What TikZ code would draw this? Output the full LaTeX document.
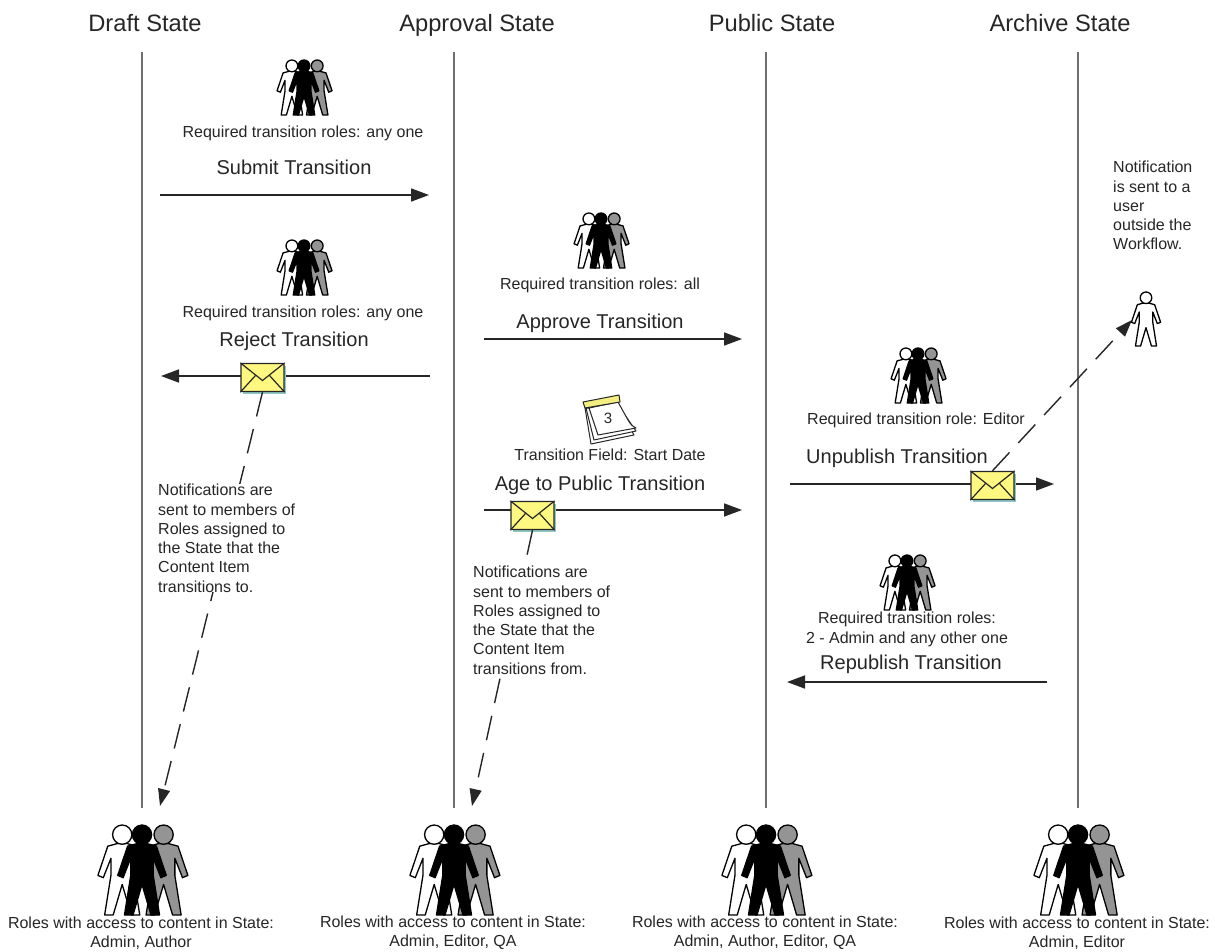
\documentclass[tikz,border=0pt]{standalone}
\usepackage{fontspec}
\setmainfont{Liberation Sans}
\usetikzlibrary{arrows.meta,calc}
\definecolor{ink}{HTML}{262626}
\definecolor{lane}{HTML}{6E6E6E}
\definecolor{envfill}{HTML}{FFF880}
\definecolor{calfill}{HTML}{F4EE80}
\definecolor{shadowc}{HTML}{8FC7C7}
\definecolor{figgray}{HTML}{949494}
\tikzset{
  x=1pt,y=-1pt,
  head/.style={font=\fontsize{23.7}{26}\selectfont,text=ink,anchor=center,inner sep=0pt,text height=17pt,text depth=0pt},
  small/.style={font=\fontsize{16}{19.3}\selectfont,text=ink,align=center,anchor=center,inner sep=0pt},
  oneline/.style={font=\fontsize{16}{19.3}\selectfont,text=ink,anchor=center,inner sep=0pt,text height=11.5pt,text depth=0pt},
  note/.style={font=\fontsize{16}{19.3}\selectfont,text=ink,align=left,anchor=north west,inner sep=0pt,fill=white},
  trans/.style={font=\fontsize{20}{22}\selectfont,text=ink,anchor=center,inner sep=0pt,text height=14.4pt,text depth=0pt},
  laneline/.style={draw=lane,line width=2.4pt},
  flow/.style={draw=ink,line width=1.6pt,-{Triangle[length=18pt,width=13pt]}},
  notify/.style={draw=ink,line width=1.4pt,dash pattern=on 25pt off 13pt,-{Triangle[length=17pt,width=12pt]}},
  envbox/.style={draw=ink,line width=1.4pt,fill=envfill,minimum width=43pt,minimum height=28pt,inner sep=0pt,rounded corners=1pt},
}
% #1 x, #2 top y, #3 height, #4 fill
\newcommand{\figperson}[4]{%
  \begin{scope}[shift={(#1,#2)},x=#3pt,y=-#3pt]
    \filldraw[draw=black,fill=#4,line width=1.3pt,line join=round]
      (-.05,.205)--(-.16,.235)--(-.27,.56)--(-.21,.585)--(-.125,.37)--(-.125,.56)--(-.195,1)--(-.10,1)--(0,.66)
      --(.10,1)--(.195,1)--(.125,.56)--(.125,.37)--(.21,.585)--(.27,.56)--(.16,.235)--(.05,.205)--cycle;
    \filldraw[draw=black,fill=#4,line width=1.3pt] (0,.107) circle[radius=.107];
  \end{scope}}
\newcommand{\figgroup}[3]{%
  \figperson{#1-.22*#3}{#2}{#3}{white}%
  \figperson{#1+.24*#3}{#2}{#3}{figgray}%
  \figperson{#1}{#2}{#3}{black}}
% #1 name, #2 x, #3 y
\newcommand{\envelope}[3]{%
  \fill[shadowc] (#2-20,#3-12) rectangle (#2+23.5,#3+16);
  \node[envbox] (#1) at (#2,#3) {};
  \draw[ink,line width=1.2pt] (#1.north west)--($(#1.center)+(0,3)$)--(#1.north east);
  \draw[ink,line width=1.2pt] (#1.south west)--($(#1.center)+(-7,-2)$);
  \draw[ink,line width=1.2pt] (#1.south east)--($(#1.center)+(7,-2)$);}
\begin{document}
\begin{tikzpicture}
\useasboundingbox (0,0) rectangle (1215,952);
\fill[white] (0,0) rectangle (1215,952);
% headings
\node[head] (h1) at (145,23) {Draft State};
\node[head] (h2) at (477,23) {Approval State};
\node[head] (h3) at (772,23) {Public State};
\node[head] (h4) at (1060,23) {Archive State};
% swimlanes
\foreach \n/\x in {a/142,b/454,c/766,d/1078}{
  \coordinate (\n t) at (\x,52);
  \coordinate (\n b) at (\x,808);
  \draw[laneline] (\n t)--(\n b);
}
% big groups
\foreach \x in {142,454,766,1078}{\figgroup{\x}{825}{90}}
\node[small] (r1) at (141,933) {Roles with access to content in State:\\Admin, Author};
\node[small] (r2) at (453,933) {Roles with access to content in State:\\Admin, Editor, QA};
\node[small] (r3) at (765,933) {Roles with access to content in State:\\Admin, Author, Editor, QA};
\node[small] (r4) at (1077,933) {Roles with access to content in State:\\Admin, Editor};
% small groups
\figgroup{304}{60}{55}
\figgroup{304}{240}{55}
\figgroup{601}{213}{55}
\figgroup{918}{348}{55}
\figgroup{907}{555}{55}
\figperson{1146}{292}{54}{white}
% labels
\node[oneline] (l1) at (303,132) {Required transition roles: any one};
\node[trans] (t1) at (294,167) {Submit Transition};
\node[oneline] (l2) at (303,312) {Required transition roles: any one};
\node[trans] (t2) at (294,339) {Reject Transition};
\node[oneline] (l3) at (600,284) {Required transition roles: all};
\node[trans] (t3) at (600,321) {Approve Transition};
\node[oneline] (l4) at (610,455) {Transition Field: Start Date};
\node[trans] (t4) at (600,483) {Age to Public Transition};
\node[oneline] (l5) at (916,419) {Required transition role: Editor};
\node[trans] (t5) at (897,456) {Unpublish Transition};
\node[small] (l6) at (907,629.5) {Required transition roles:\\2 - Admin and any other one};
\node[trans] (t6) at (911,662) {Republish Transition};
% arrows
\coordinate (s1) at (160,195); \coordinate (e1) at (429,195);
\coordinate (s2) at (430,376); \coordinate (e2) at (161,376);
\coordinate (s3) at (484,339); \coordinate (e3) at (742,339);
\coordinate (s4) at (484,510); \coordinate (e4) at (742,510);
\coordinate (s5) at (790,484); \coordinate (e5) at (1054,484);
\coordinate (s6) at (1047,682); \coordinate (e6) at (787,682);
\foreach \i in {1,...,6}{\draw[flow] (s\i)--(e\i);}
% dashed notifications
\coordinate (d1) at (160,806);
\coordinate (d2) at (472,806);
\coordinate (d3) at (1132,320);
\envelope{m1}{262.5}{377.5}
\envelope{m2}{532.5}{515.5}
\envelope{m3}{992.5}{485.5}
\draw[notify] (m1.south)--(d1);
\draw[notify] (m2.south)--(d2);
\draw[notify] (m3.north)--(d3);
% notes (their white boxes interrupt the dashed lines)
\node[note] (n1) at (158,484) {Notifications are\\sent to members of\\Roles assigned to\\the State that the\\Content Item\\transitions to.};
\node[note] (n2) at (473,566) {Notifications are\\sent to members of\\Roles assigned to\\the State that the\\Content Item\\transitions from.};
\node[note] (n3) at (1113,161) {Notification\\is sent to a\\user\\outside the\\Workflow.};
% calendar
\begin{scope}[draw=ink,line width=1pt,line join=round]
  \filldraw[fill=white] (585,408)--(591,444)--(634,435)--(620,410)--cycle;
  \filldraw[fill=white] (586,408)--(594,440)--(636,431)--(620,408)--cycle;
  \filldraw[fill=white] (589,408)--(618,402)--(628,420) .. controls (631,425) and (633,427) .. (636,428)--(598,435)--cycle;
  \filldraw[fill=calfill] (583,402)--(619,395)--(620,402)--(585,408)--cycle;
\end{scope}
\node[font=\fontsize{15}{16}\selectfont,text=ink,inner sep=0pt] (cal) at (608,418) {3};
\end{tikzpicture}
\end{document}
